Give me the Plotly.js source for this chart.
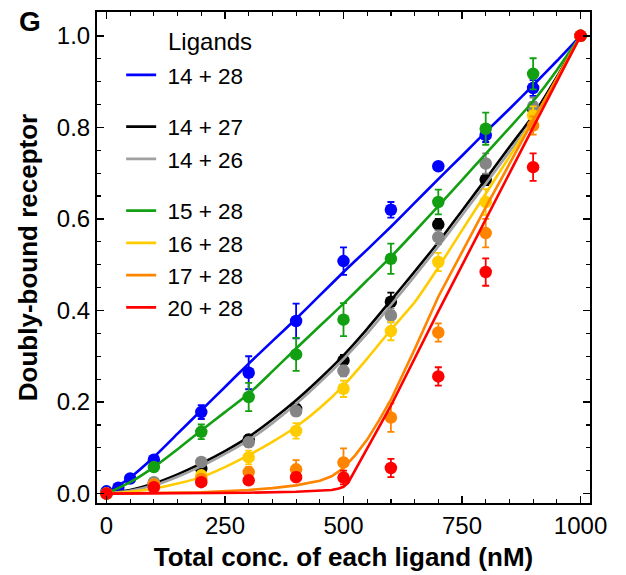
<!DOCTYPE html>
<html>
<head>
<meta charset="utf-8">
<script src="https://cdn.plot.ly/plotly-3.0.1.min.js"></script>
<style>html,body{margin:0;padding:0;background:#fff}#chart{width:626px;height:575px}</style>
</head>
<body>
<div id="chart"></div>
<script>
// ---- measured data ----
const conc = [0, 100, 200, 300, 400, 500, 600, 700, 800, 900, 1000];
const concBlue = [0, 25, 50, 100, 200, 300, 400, 500, 600, 700, 800, 900, 1000];

const blueY   = [0.005, 0.013, 0.033, 0.074, 0.178, 0.264, 0.377, 0.508, 0.620, 0.715, 0.783, 0.886, 1.0];
const blueErr = [0, 0, 0, 0.008, 0.015, 0.036, 0.038, 0.030, 0.017, 0.008, 0.015, 0.017, 0];

const blackY   = [0, 0.022, 0.055, 0.118, 0.185, 0.291, 0.419, 0.588, 0.686, 0.840, 1.0];
const blackErr = [0, 0.005, 0.008, 0.010, 0.010, 0.012, 0.020, 0.012, 0.012, 0.015, 0];

const grayY   = [0, 0.025, 0.069, 0.112, 0.180, 0.268, 0.389, 0.560, 0.721, 0.845, 1.0];
const grayErr = [0, 0.005, 0.008, 0.010, 0.010, 0.012, 0.015, 0.015, 0.022, 0.020, 0];

const greenY   = [0, 0.058, 0.135, 0.211, 0.304, 0.380, 0.513, 0.637, 0.797, 0.917, 1.0];
const greenErr = [0, 0.006, 0.016, 0.031, 0.036, 0.036, 0.033, 0.027, 0.035, 0.034, 0];

const yellowY   = [0, 0.020, 0.040, 0.079, 0.137, 0.229, 0.355, 0.506, 0.637, 0.826, 1.0];
const yellowErr = [0, 0.005, 0.008, 0.015, 0.017, 0.018, 0.020, 0.020, 0.028, 0.020, 0];

const orangeY   = [0, 0.020, 0.032, 0.047, 0.053, 0.068, 0.166, 0.352, 0.569, 0.804, 1.0];
const orangeErr = [0, 0.005, 0.008, 0.011, 0.020, 0.031, 0.031, 0.020, 0.031, 0.020, 0];

const redY   = [0, 0.014, 0.025, 0.029, 0.036, 0.035, 0.056, 0.256, 0.484, 0.713, 1.0];
const redErr = [0, 0.005, 0.006, 0.008, 0.010, 0.015, 0.020, 0.020, 0.030, 0.030, 0];

// fitted curves
const fitX = [0, 50, 100, 150, 200, 250, 300, 350, 400, 450, 500, 550, 600, 650, 700, 750, 800, 850, 900, 950, 1000];
const blueFit   = [0, 0.035, 0.080, 0.131, 0.182, 0.233, 0.284, 0.333, 0.382, 0.433, 0.484, 0.533, 0.583, 0.635, 0.687, 0.738, 0.790, 0.840, 0.892, 0.945, 1.0];
const greenFit  = [0, 0.025, 0.058, 0.097, 0.138, 0.178, 0.218, 0.267, 0.317, 0.366, 0.415, 0.466, 0.517, 0.572, 0.628, 0.685, 0.742, 0.799, 0.857, 0.925, 1.0];
const blackFit  = [0, 0.008, 0.022, 0.042, 0.066, 0.093, 0.124, 0.162, 0.204, 0.251, 0.302, 0.360, 0.422, 0.485, 0.549, 0.618, 0.687, 0.757, 0.826, 0.910, 1.0];
const grayFit   = [0, 0.006, 0.018, 0.037, 0.060, 0.087, 0.117, 0.154, 0.196, 0.243, 0.294, 0.350, 0.412, 0.475, 0.540, 0.608, 0.677, 0.747, 0.818, 0.905, 1.0];
const yellowFit = [0, 0.004, 0.011, 0.022, 0.036, 0.058, 0.084, 0.113, 0.146, 0.187, 0.236, 0.295, 0.358, 0.418, 0.494, 0.575, 0.655, 0.736, 0.816, 0.905, 1.0];
const orangeFitX = [0, 100, 200, 300, 350, 400, 450, 475, 500, 525, 550, 575, 600, 650, 700, 800, 900, 1000];
const orangeFit  = [0, 0.001, 0.003, 0.008, 0.012, 0.018, 0.028, 0.038, 0.056, 0.084, 0.118, 0.160, 0.205, 0.315, 0.430, 0.625, 0.815, 1.0];
const redFitX = [0, 200, 300, 400, 450, 475, 490, 500, 510, 600, 700, 800, 900, 1000];
const redFit  = [0, 0.001, 0.002, 0.004, 0.006, 0.008, 0.011, 0.015, 0.024, 0.192, 0.398, 0.600, 0.800, 1.0];

const names = ['14 + 28', '14 + 27', '14 + 26', '15 + 28', '16 + 28', '17 + 28', '20 + 28'];

// ---- styling ----
const FONT = 'Liberation Sans, Arial, sans-serif';
const series = [
  {name: names[0], group: 'g1', line: '#0000ff', mark: '#0000ff', fx: fitX, fy: blueFit, x: concBlue, y: blueY, e: blueErr, shape: 'spline'},
  {name: names[1], group: 'g2', line: '#000000', mark: '#000000', fx: fitX, fy: blackFit, x: conc, y: blackY, e: blackErr, shape: 'spline'},
  {name: names[2], group: 'g2', line: '#a0a0a0', mark: '#858585', fx: fitX, fy: grayFit, x: conc, y: grayY, e: grayErr, shape: 'spline'},
  {name: names[3], group: 'g3', line: '#12a012', mark: '#12a012', fx: fitX, fy: greenFit, x: conc, y: greenY, e: greenErr, shape: 'spline'},
  {name: names[4], group: 'g3', line: '#ffcc00', mark: '#ffcc00', fx: fitX, fy: yellowFit, x: conc, y: yellowY, e: yellowErr, shape: 'spline'},
  {name: names[5], group: 'g3', line: '#ff8400', mark: '#ff8400', fx: orangeFitX, fy: orangeFit, x: conc, y: orangeY, e: orangeErr, shape: 'linear'},
  {name: names[6], group: 'g3', line: '#ff0000', mark: '#ff0000', fx: redFitX, fy: redFit, x: conc, y: redY, e: redErr, shape: 'linear'}
];

const traces = [];
series.forEach(s => {
  traces.push({
    x: s.fx, y: s.fy, type: 'scatter', mode: 'lines', name: '\u00a0' + s.name,
    legendgroup: s.group, showlegend: true,
    line: {color: s.line, width: 2.6, shape: s.shape, smoothing: 0.6},
    hoverinfo: 'skip'
  });
  traces.push({
    x: s.x, y: s.y, type: 'scatter', mode: 'markers', name: s.name,
    legendgroup: s.group, showlegend: false,
    marker: {color: s.mark, size: 12.5},
    error_y: {type: 'data', array: s.e, visible: true, color: s.mark, thickness: 1.8, width: 3.5}
  });
});

const axisCommon = {
  showline: true, linecolor: '#000', linewidth: 2, mirror: 'allticks',
  ticks: 'inside', ticklen: 7, tickwidth: 1.5, tickcolor: '#000',
  showgrid: false, zeroline: false,
  tickfont: {family: FONT, size: 24, color: '#000'}
};

const layout = {
  width: 626, height: 575,
  margin: {l: 97, r: 36, t: 12, b: 72},
  paper_bgcolor: '#fff', plot_bgcolor: '#fff',
  showlegend: true,
  legend: {
    x: 0.049, y: 0.915, xanchor: 'left', yanchor: 'top',
    traceorder: 'grouped', tracegroupgap: 19.5,
    font: {family: FONT, size: 22.5, color: '#000'},
    bgcolor: 'rgba(0,0,0,0)', borderwidth: 0
  },
  xaxis: Object.assign({}, axisCommon, {
    range: [-20, 1020], tickvals: [0, 250, 500, 750, 1000],
    minor: {dtick: 50, tick0: 0, ticks: 'inside', ticklen: 4, tickwidth: 1.2, tickcolor: '#000', showgrid: false},
    title: {text: '<b>Total conc. of each ligand (nM)</b>', font: {family: FONT, size: 26, color: '#000'}, standoff: 10}
  }),
  yaxis: Object.assign({}, axisCommon, {
    range: [-0.0205, 1.052], tickvals: [0, 0.2, 0.4, 0.6, 0.8, 1.0], tickformat: '.1f',
    minor: {dtick: 0.05, tick0: 0, ticks: 'inside', ticklen: 4, tickwidth: 1.2, tickcolor: '#000', showgrid: false},
    title: {text: '<b>Doubly-bound receptor</b>', font: {family: FONT, size: 26, color: '#000'}, standoff: 12}
  }),
  annotations: [
    {text: '<b>G</b>', xref: 'paper', yref: 'paper', x: -0.136, y: 0.98, xanchor: 'center', yanchor: 'middle',
     showarrow: false, font: {family: FONT, size: 28, color: '#000'}},
    {text: 'Ligands', xref: 'paper', yref: 'paper', x: 0.1394, y: 0.9395, xanchor: 'left', yanchor: 'middle',
     showarrow: false, font: {family: FONT, size: 24, color: '#000'}}
  ]
};

Plotly.newPlot('chart', traces, layout, {displayModeBar: false, staticPlot: true});
</script>
</body>
</html>
